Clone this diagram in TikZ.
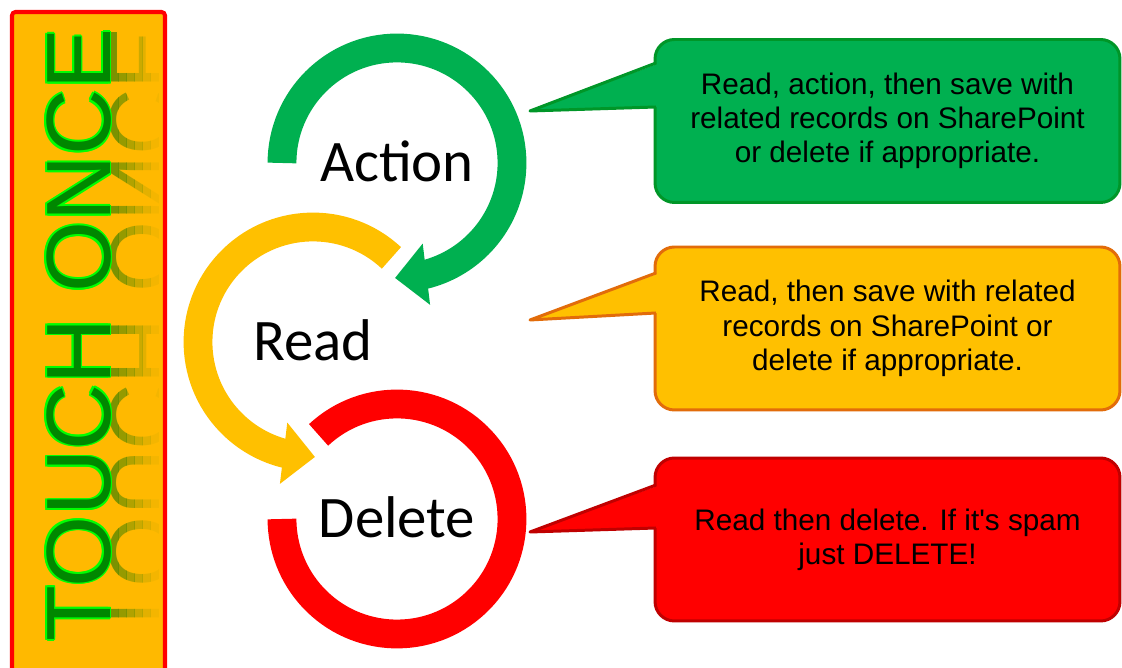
\documentclass[tikz,border=0pt]{standalone}
\usepackage{fontspec}
\setmainfont{Liberation Sans}
\newfontfamily\calibrifont{Carlito}
\usepackage{tikz}
\usetikzlibrary{arrows.meta,bending}
\definecolor{tcgreen}{RGB}{0,176,80}
\definecolor{tcgreenline}{RGB}{0,150,40}
\definecolor{tcyellow}{RGB}{255,192,0}
\definecolor{tcorange}{RGB}{226,108,10}
\definecolor{tcred}{RGB}{255,0,0}
\definecolor{tcdarkred}{RGB}{192,0,0}
\definecolor{tcpanel}{RGB}{255,185,0}
\definecolor{tclime}{RGB}{0,255,0}
\definecolor{tcleaf}{RGB}{0,135,0}
\definecolor{tcolive}{RGB}{100,140,0}

\begin{document}
\begin{tikzpicture}[x=0.02cm, y=0.02cm,
    ring/.style={line width=16.4pt},
    ringarrow/.style={line width=16.4pt, -{Triangle[length=18pt, width=34pt]}},
    steplabel/.style={font=\calibrifont\fontsize{33.5}{40}\selectfont, inner sep=0pt, text height=21.6pt, text depth=0pt},
    bubble/.style={rounded corners=11pt, line width=1.7pt, minimum width=9.3cm, minimum height=3.26cm, align=center, font=\fontsize{16.9}{19.5}\selectfont},
    pointer/.style={line width=1.7pt, line join=round},
    title/.style={font=\fontsize{52}{52}\selectfont, anchor=base, rotate=90, inner sep=0pt}
]
    % Canvas
    \fill[white] (0,0) rectangle (1122,668);
    \useasboundingbox (0,0) rectangle (1122,668);

    % Side panel
    \draw[tcred, line width=2.3pt, fill=tcpanel, rounded corners=2pt] (12,-20) rectangle (165,656);

    % Title reflection (faded strips)
    \foreach \i/\op in {0/0.85,1/0.68,2/0.5,3/0.33,4/0.18,5/0.07} {
        \begin{scope}
            \clip ({110+\i*8},20) rectangle ({118+\i*8},650);
            \node[title, yscale=-1, text=tcolive, opacity=\op] (reflect\i) at (110,333) {TOUCH ONCE};
        \end{scope}
    }

    % Title with bright outline
    \foreach \dx/\dy [count=\k] in {1.1/0,-1.1/0,0/1.1,0/-1.1,0.8/0.8,-0.8/0.8,0.8/-0.8,-0.8/-0.8} {
        \node[title, text=tclime, xshift=\dx pt, yshift=\dy pt] (glow\k) at (110,333) {TOUCH ONCE};
    }
    \node[title, text=tcleaf] (title) at (110,333) {TOUCH ONCE};

    % Step labels
    \node[steplabel] (action) at (397,505) {Action};
    \node[steplabel] (read) at (313,326) {Read};
    \node[steplabel] (delete) at (397,149) {Delete};

    % Rings
    \draw[ringarrow, tcgreen] ([shift={(180:115)}]action.center) arc[start angle=180, end angle=-91, radius=115];
    \draw[ring, tcred] ([shift={(133:115)}]delete.center) arc[start angle=133, end angle=-180, radius=115];
    \draw[ringarrow, tcyellow] ([shift={(47:115)}]read.center) arc[start angle=47, end angle=271, radius=115];

    % Callout boxes
    \node[bubble, draw=tcgreenline, fill=tcgreen] (boxAction) at (887.5,547)
        {Read, action, then save with\\related records on SharePoint\\or delete if appropriate.};
    \node[bubble, draw=tcorange, fill=tcyellow] (boxRead) at (887.5,339.5)
        {Read, then save with related\\records on SharePoint or\\delete if appropriate.};
    \node[bubble, draw=tcdarkred, fill=tcred] (boxDelete) at (887.5,128.5)
        {Read then delete. If it\textquotesingle s spam\\just DELETE!};

    % Pointers
    \coordinate (tipAction) at (530,557);
    \coordinate (tipRead) at (530,348);
    \coordinate (tipDelete) at (530,136);
    \fill[tcgreen] (tipAction) -- (660,605) -- (660,561) -- cycle;
    \draw[pointer, tcgreenline] (656,605) -- (tipAction) -- (656,561);
    \fill[tcyellow] (tipRead) -- (660,395) -- (660,355) -- cycle;
    \draw[pointer, tcorange] (656,395) -- (tipRead) -- (656,355);
    \fill[tcred] (tipDelete) -- (660,183) -- (660,140) -- cycle;
    \draw[pointer, tcdarkred] (656,183) -- (tipDelete) -- (656,140);
\end{tikzpicture}
\end{document}
